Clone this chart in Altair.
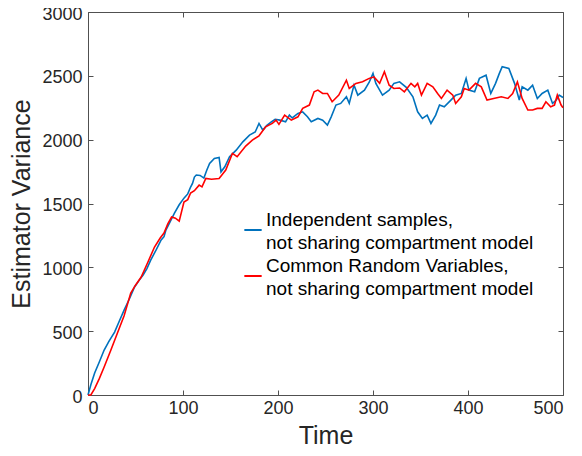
import altair as alt
import pandas as pd

# ---- data ----
blue_t = [0, 3, 7, 12, 17, 22, 28, 33, 38, 44, 49, 54, 58, 62, 66, 72, 77, 80, 82, 86,
          91, 96, 101, 105, 108, 110, 112, 114, 118, 122, 125, 128, 133, 138, 140, 144, 149, 156, 163, 170,
          176, 180, 184, 188, 193, 197, 202, 208, 212, 215, 221, 226, 231, 235, 242, 247, 252, 256, 261, 266,
          272, 275, 280, 284, 291, 296, 300, 303, 310, 317, 322, 328, 335, 342, 347, 352, 357, 361, 366, 370,
          375, 382, 387, 393, 398, 401, 407, 412, 419, 424, 429, 433, 436, 443, 449, 454, 457, 463, 468, 473,
          478, 484, 489, 493, 496, 500]
blue_v = [0, 80, 172, 260, 352, 420, 493, 580, 665, 760, 846, 900, 940, 990, 1057, 1140, 1214, 1240, 1292, 1350,
          1425, 1490, 1542, 1575, 1629, 1657, 1707, 1723, 1720, 1699, 1760, 1814, 1853, 1861, 1748, 1788, 1866, 1918, 1983, 2036,
          2060, 2127, 2075, 2110, 2140, 2160, 2153, 2140, 2192, 2170, 2206, 2218, 2179, 2140, 2166, 2153, 2114, 2179, 2271, 2284,
          2336, 2284, 2427, 2349, 2388, 2450, 2519, 2441, 2349, 2388, 2441, 2453, 2410, 2336, 2218, 2166, 2192, 2127, 2192, 2271,
          2257, 2310, 2349, 2362, 2480, 2388, 2375, 2480, 2505, 2362, 2441, 2519, 2571, 2558, 2441, 2310, 2414, 2388, 2427, 2323,
          2362, 2388, 2284, 2310, 2349, 2330]

red_t = [0, 3, 7, 12, 17, 24, 31, 38, 45, 50, 56, 63, 70, 76, 78, 80, 84, 88, 92, 96,
         101, 105, 108, 112, 117, 120, 124, 130, 138, 145, 152, 157, 166, 173, 180, 187, 194, 198, 201, 207,
         214, 221, 226, 233, 238, 242, 247, 252, 257, 264, 272, 275, 282, 289, 296, 301, 307, 312, 317, 322,
         328, 333, 340, 344, 347, 351, 357, 363, 368, 372, 378, 384, 387, 393, 396, 401, 408, 414, 420, 427,
         435, 442, 447, 452, 457, 463, 468, 473, 478, 482, 487, 491, 494, 498, 500]
red_v = [0, 0, 50, 130, 219, 350, 485, 620, 798, 860, 924, 1040, 1159, 1230, 1250, 1268, 1340, 1394, 1385, 1362,
         1511, 1530, 1582, 1600, 1644, 1630, 1696, 1690, 1696, 1762, 1892, 1866, 1950, 1997, 2030, 2101, 2127, 2153, 2120, 2192,
         2153, 2179, 2245, 2271, 2375, 2388, 2362, 2362, 2297, 2349, 2466, 2401, 2441, 2453, 2480, 2492, 2441, 2532, 2427, 2401,
         2405, 2375, 2441, 2414, 2441, 2349, 2441, 2414, 2362, 2323, 2388, 2349, 2284, 2336, 2401, 2388, 2441, 2414, 2310, 2323,
         2336, 2323, 2362, 2453, 2323, 2232, 2232, 2245, 2245, 2297, 2257, 2271, 2349, 2271, 2250]

series_names = ["Independent samples,\nnot sharing compartment model",
                "Common Random Variables,\nnot sharing compartment model"]
series_colors = ["#0072BD", "#FF0000"]
x_ticks = [0, 100, 200, 300, 400, 500]
y_ticks = [0, 500, 1000, 1500, 2000, 2500, 3000]

df = pd.concat([
    pd.DataFrame({"t": blue_t, "v": blue_v, "series": series_names[0]}),
    pd.DataFrame({"t": red_t, "v": red_v, "series": series_names[1]}),
], ignore_index=True)
df["i"] = range(len(df))

FONT = "Liberation Sans"
x_scale = alt.Scale(domain=[0, 500], nice=False)
y_scale = alt.Scale(domain=[0, 3000], nice=False)

common = dict(domainColor="#505050", domainWidth=1, tickColor="#505050", tickWidth=1,
              tickSize={"expr": "-5"}, grid=False, format="d",
              labelFont=FONT, labelFontSize=18, labelColor="#262626",
              titleFont=FONT, titleFontSize=25, titleColor="#262626", titleFontWeight="normal")

lines = alt.Chart(df).mark_line(strokeWidth=1.6).encode(
    x=alt.X("t:Q", scale=x_scale,
            axis=alt.Axis(orient="bottom", values=x_ticks, title="Time", labelPadding=9,
                          titlePadding=6, **common)),
    y=alt.Y("v:Q", scale=y_scale,
            axis=alt.Axis(orient="left", values=y_ticks, title="Estimator Variance", labelPadding=11,
                          labelOffset=2, titlePadding=7, **common)),
    color=alt.Color("series:N",
                    scale=alt.Scale(domain=series_names, range=series_colors),
                    legend=alt.Legend(title="", orient="none", legendX=155, legendY=208,
                                      labelExpr="split(datum.label, '\\n')",
                                      labelBaseline="bottom",
                                      symbolType="stroke", symbolStrokeWidth=2, symbolSize=300,
                                      labelFont=FONT, labelFontSize=19, labelColor="#000000",
                                      labelLimit=500, rowPadding=3, labelOffset=3, padding=0)),
    order="i:Q",
)

box = alt.Chart(df).mark_line(strokeOpacity=0).encode(
    x=alt.X("t:Q", scale=x_scale,
            axis=alt.Axis(orient="top", values=x_ticks, title="", labels=False, **common)),
    y=alt.Y("v:Q", scale=y_scale,
            axis=alt.Axis(orient="right", values=y_ticks, title="", labels=False, **common)),
    detail="series:N",
)

chart = alt.layer(lines, box).resolve_axis(x="independent", y="independent").properties(
    width=475, height=383, autosize="none",
    padding={"left": 80, "top": 4, "right": 11, "bottom": 53},
).configure(
    view={"strokeWidth": 0},
    style={"guide-label": {"lineHeight": 23.3}},
)

chart.save("out.html", embed_options={"renderer": "svg", "actions": False})
